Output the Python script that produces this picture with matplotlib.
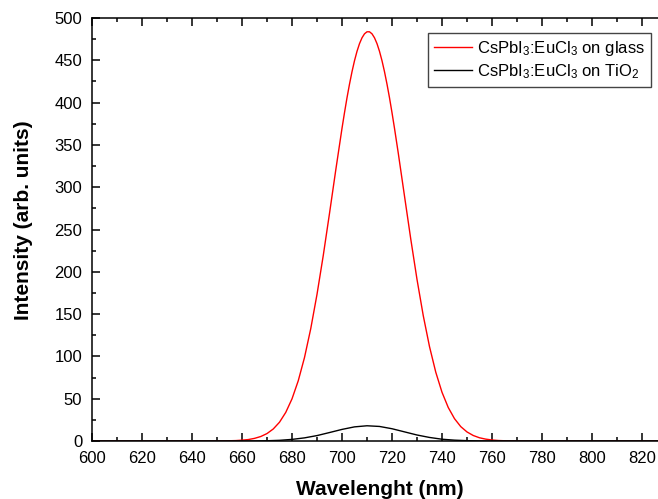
import numpy as np
import matplotlib
matplotlib.use("Agg")
import matplotlib.pyplot as plt
from matplotlib.ticker import MultipleLocator

plt.rcParams['font.family'] = ['Liberation Sans', 'DejaVu Sans']
plt.rcParams['mathtext.fontset'] = 'custom'
plt.rcParams['mathtext.rm'] = 'Liberation Sans'
plt.rcParams['mathtext.it'] = 'Liberation Sans:italic'
plt.rcParams['mathtext.bf'] = 'Liberation Sans:bold'

# PL spectra (wavelength in nm, intensity in arb. units)
wl_glass = [600, 650, 655, 657.5, 660, 662.5, 665, 667.5, 670, 672.5, 675, 677.5,
            680, 682.5, 685, 687.5, 690, 692.5, 695, 697.5, 700,
            701, 702, 703, 704, 705, 706, 707, 708, 709, 710,
            711, 712, 713, 714, 715, 716, 717, 718, 719, 720, 721,
            722.5, 725, 727.5, 730, 732.5,
            735, 737.5, 740, 742.5, 745, 747.5, 750, 752.5, 755, 757.5, 760,
            762.5, 765, 770, 830]
int_glass = [0, 0, 0.3, 0.5, 1.0, 1.7, 3.1, 5.3, 8.8, 14.2, 22.2, 33.8,
             49.8, 71.2, 98.7, 132.8, 173.3, 219.2, 269.0, 320.2, 369.6,
             388.1, 405.7, 421.8, 436.5, 449.5, 460.6, 469.7, 476.6, 481.3, 483.7,
             483.7, 481.3, 476.6, 469.7, 460.6, 449.5, 436.5, 421.8, 405.7, 388.1, 369.6,
             340.4, 289.5, 238.8, 191.0, 148.2,
             111.6, 81.4, 57.6, 39.6, 26.4, 17.0, 10.7, 6.5, 3.8, 2.2, 1.2,
             0.6, 0.3, 0, 0]

wl_tio2 = [600, 655, 660, 665, 670, 675, 680, 685, 690, 695, 700, 705, 710,
           715, 720, 725, 730, 735, 740, 745, 750, 755, 760, 765, 830]
int_tio2 = [0, 0, 0.04, 0.1, 0.3, 0.8, 1.9, 3.7, 6.4, 10.0, 13.7, 16.7, 18.0,
            17.2, 14.5, 10.8, 7.1, 4.2, 2.1, 1.0, 0.4, 0.15, 0.05, 0, 0]

labels = [r'CsPbI$_3$:EuCl$_3$ on glass', r'CsPbI$_3$:EuCl$_3$ on TiO$_2$']

fig = plt.figure(figsize=(6.58, 4.99), dpi=100)
ax = fig.add_axes([92/658, 1 - 441/499, (667 - 92)/658, (441 - 18)/499])

ax.plot(wl_glass, int_glass, color='red', lw=1.0, label=labels[0])
ax.plot(wl_tio2, int_tio2, color='black', lw=1.0, label=labels[1])

ax.set_xlim(600, 830)
ax.set_ylim(0, 500)
ax.xaxis.set_major_locator(MultipleLocator(20))
ax.xaxis.set_minor_locator(MultipleLocator(10))
ax.yaxis.set_major_locator(MultipleLocator(50))
ax.yaxis.set_minor_locator(MultipleLocator(25))
ax.tick_params(which='both', direction='in', top=True, right=True,
               width=1.1, labelsize=12)
ax.tick_params(which='major', length=6)
ax.tick_params(which='minor', length=3)
ax.tick_params(axis='x', pad=7)
ax.tick_params(axis='y', pad=7)
for s in ax.spines.values():
    s.set_linewidth(1.1)

ax.set_xlabel('Wavelenght (nm)', fontsize=15, fontweight='bold', labelpad=10)
ax.set_ylabel('Intensity (arb. units)', fontsize=15, fontweight='bold')
ax.yaxis.set_label_coords(-0.103, 0.522)

leg = ax.legend(loc='upper right', bbox_to_anchor=(651/658, 1 - 33/499),
                bbox_transform=fig.transFigure, fontsize=12, fancybox=False,
                framealpha=1, edgecolor='#444444', handlelength=2.3,
                handletextpad=0.3, borderpad=0.35, labelspacing=0.25,
                borderaxespad=0)
leg.get_frame().set_linewidth(1.0)

fig.savefig('out.png', dpi=100)
